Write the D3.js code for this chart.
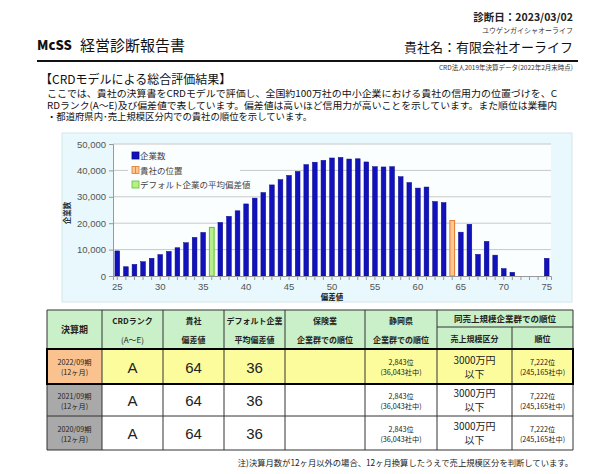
<!DOCTYPE html>
<html>
<head>
<meta charset="utf-8">
<script src="https://cdn.jsdelivr.net/npm/d3@7"></script>
<style>
  body { margin: 0; background: #fff; }
  text { font-family: "Noto Sans CJK JP", "Liberation Sans", sans-serif; }
  .num { font-family: "Liberation Sans", Arial, sans-serif; }
</style>
</head>
<body>
<div id="report"></div>
<script>
// Chart data: deviation score buckets and company counts
const scores = [25, 26, 27, 28, 29, 30, 31, 32, 33, 34, 35, 36, 37, 38, 39, 40, 41, 42, 43, 44, 45, 46, 47, 48, 49, 50,
  51, 52, 53, 54, 55, 56, 57, 58, 59, 60, 61, 62, 63, 64, 65, 66, 67, 68, 69, 70, 71, 72, 73, 74, 75];
const companyCounts = [9500, 3500, 4400, 5400, 6700, 8100, 9300, 10700, 12600, 14600, 16500, 18400, 20300, 22600, 24700,
  27300, 29500, 31600, 34500, 36500, 38100, 39600, 42200, 43100, 43800, 44700, 44900, 44300, 44400, 43200, 41400, 41300,
  41400, 37600, 35400, 33300, 33700, 28200, 27800, 21000, 16600, 19600, 8200, 13100, 7900, 2800, 1400, 0, 0, 0, 6700];
const ownScore = 64;
const defaultAvgScore = 36;
const yTicks = [0, 10000, 20000, 30000, 40000, 50000];
const xLabels = [25, 30, 35, 40, 45, 50, 55, 60, 65, 70, 75];
const legendLabels = ["企業数", "貴社の位置", "デフォルト企業の平均偏差値"];

// Table data
const periods = ["2022/09期", "2021/09期", "2020/09期"];
const periodMonths = ["(12ヶ月)", "(12ヶ月)", "(12ヶ月)"];
const crdRanks = ["A", "A", "A"];
const ownScores = ["64", "64", "64"];
const defaultScores = ["36", "36", "36"];
const industryRanks = ["", "", ""];
const prefRanks = ["2,843位", "2,843位", "2,843位"];
const prefTotals = ["(36,043社中)", "(36,043社中)", "(36,043社中)"];
const salesClasses = ["3000万円", "3000万円", "3000万円"];
const salesClassSub = ["以下", "以下", "以下"];
const salesRanks = ["7,222位", "7,222位", "7,222位"];
const salesTotals = ["(245,165社中)", "(245,165社中)", "(245,165社中)"];

const svg = d3.select("#report").append("svg")
  .attr("width", 600)
  .attr("height", 474);

// ---- header ----
svg.append("text").attr("x", 573).attr("y", 21).attr("text-anchor", "end")
  .attr("font-size", 10.5).attr("font-weight", "bold").attr("fill", "#222").text("診断日：2023/03/02");
svg.append("text").attr("x", 573).attr("y", 33).attr("text-anchor", "end")
  .attr("font-size", 7).attr("fill", "#333").text("ユウゲンガイシャオーライフ");
svg.append("text").attr("x", 37).attr("y", 50)
  .attr("font-size", 13).attr("font-weight", "900").attr("fill", "#111")
  .attr("font-family", "Liberation Sans, Arial, sans-serif").text("McSS");
svg.append("text").attr("x", 80).attr("y", 51)
  .attr("font-size", 15).attr("fill", "#111").text("経営診断報告書");
svg.append("text").attr("x", 573).attr("y", 52).attr("text-anchor", "end")
  .attr("font-size", 13).attr("fill", "#111").text("貴社名：有限会社オーライフ");
svg.append("line").attr("x1", 37).attr("x2", 578).attr("y1", 61).attr("y2", 61)
  .attr("stroke", "#111").attr("stroke-width", 2);
svg.append("text").attr("x", 573).attr("y", 70).attr("text-anchor", "end")
  .attr("font-size", 6.5).attr("fill", "#333").text("CRD法人2019年決算データ(2022年2月末時点)");

svg.append("text").attr("x", 40).attr("y", 84)
  .attr("font-size", 12).attr("fill", "#111").text("【CRDモデルによる総合評価結果】");

const para = [
  "ここでは、貴社の決算書をCRDモデルで評価し、全国約100万社の中小企業における貴社の信用力の位置づけを、C",
  "RDランク(A～E)及び偏差値で表しています。偏差値は高いほど信用力が高いことを示しています。また順位は業種内",
  "・都道府県内･売上規模区分内での貴社の順位を示しています。"
];
svg.selectAll(".para").data(para).enter().append("text")
  .attr("class", "para")
  .attr("x", 47)
  .attr("y", (d, i) => 97 + i * 11.5)
  .attr("font-size", 9.5)
  .attr("fill", "#111")
  .attr("textLength", (d, i) => i < 2 ? 510 : 265)
  .attr("lengthAdjust", "spacingAndGlyphs")
  .text(d => d);

// ---- chart ----
svg.append("rect").attr("x", 62).attr("y", 133).attr("width", 510).attr("height", 169)
  .attr("fill", "#e8f8fc").attr("stroke", "#d3e6ec");

const x = d3.scaleBand()
  .domain(scores)
  .range([113, 551])
  .paddingInner(0.45)
  .paddingOuter(0.225);
const y = d3.scaleLinear().domain([0, 50000]).range([276, 144]);

svg.append("rect").attr("x", 113).attr("y", 144).attr("width", 438).attr("height", 132)
  .attr("fill", "#fbfeff");

// gridlines
svg.append("g").selectAll("line").data(yTicks.slice(1)).enter().append("line")
  .attr("x1", 113).attr("x2", 551)
  .attr("y1", d => y(d)).attr("y2", d => y(d))
  .attr("stroke", "#c8c8c8").attr("stroke-width", 1);

// bars
svg.append("g").selectAll("rect").data(scores).enter().append("rect")
  .attr("x", (d) => x(d))
  .attr("width", x.bandwidth())
  .attr("y", (d, i) => y(companyCounts[i]))
  .attr("height", (d, i) => y(0) - y(companyCounts[i]))
  .attr("fill", d => d === ownScore ? "#ffc88e" : d === defaultAvgScore ? "#b9ee8c" : "#1212bd")
  .attr("stroke", d => d === ownScore ? "#e07a30" : d === defaultAvgScore ? "#5cc22c" : "#0a0a88")
  .attr("stroke-width", d => (d === ownScore || d === defaultAvgScore) ? 1 : 0.5);

// y axis
const yAxis = svg.append("g").attr("transform", "translate(113,0)")
  .call(d3.axisLeft(y).tickValues(yTicks).tickSize(4).tickFormat(d3.format(",")));
yAxis.select(".domain").attr("stroke", "#999");
yAxis.selectAll(".tick line").attr("stroke", "#999");
yAxis.selectAll(".tick text").attr("class", "num").attr("font-size", 9.5).attr("fill", "#555");

// x axis
const xAxis = svg.append("g").attr("transform", "translate(0,276)")
  .call(d3.axisBottom(x).tickSize(4).tickFormat(d => xLabels.includes(d) ? d : ""));
xAxis.select(".domain").attr("stroke", "#999");
xAxis.selectAll(".tick line").attr("stroke", "#999");
xAxis.selectAll(".tick text").attr("class", "num").attr("font-size", 9.5).attr("fill", "#555");

svg.append("text").attr("transform", "translate(70,213) rotate(-90)")
  .attr("text-anchor", "middle").attr("font-size", 7.5).attr("font-weight", "bold").attr("fill", "#333")
  .text("企業数");
svg.append("text").attr("x", 332).attr("y", 300).attr("text-anchor", "middle")
  .attr("font-size", 7.5).attr("font-weight", "bold").attr("fill", "#111").text("偏差値");

// legend
const legend = svg.append("g").attr("transform", "translate(128,146)");
legend.append("rect").attr("width", 112).attr("height", 42).attr("fill", "#fbfeff");
const swFill = ["#1212bd", "#ffc88e", "#b9ee8c"];
const swStroke = ["#0a0a88", "#e07a30", "#5cc22c"];
legendLabels.forEach((lab, i) => {
  const g = legend.append("g").attr("transform", `translate(4,${6 + i * 14.5})`);
  g.append("rect").attr("width", 7).attr("height", 7)
    .attr("fill", swFill[i]).attr("stroke", swStroke[i]).attr("stroke-width", 0.8);
  if (i === 1) {
    g.append("line").attr("x1", 3.5).attr("x2", 3.5).attr("y1", 0).attr("y2", 7)
      .attr("stroke", "#e07a30").attr("stroke-width", 0.8);
  }
  g.append("text").attr("x", 8).attr("y", 7).attr("font-size", 8.5).attr("fill", "#444").text(lab);
});

// ---- table ----
const colX = [47, 102, 163, 224, 285, 365, 437, 512, 573];
const rowY = [310, 349, 384, 416, 450];
const subY = 327;
const table = svg.append("g");

// header background
table.append("rect").attr("x", colX[0]).attr("y", rowY[0])
  .attr("width", colX[8] - colX[0]).attr("height", rowY[1] - rowY[0]).attr("fill", "#c9f0c9");

// row backgrounds
periods.forEach((p, r) => {
  const y0 = rowY[r + 1], y1 = rowY[r + 2];
  table.append("rect").attr("x", colX[0]).attr("y", y0).attr("width", colX[1] - colX[0]).attr("height", y1 - y0)
    .attr("fill", r === 0 ? "#f9c28e" : "#a9a9a9");
  table.append("rect").attr("x", colX[1]).attr("y", y0).attr("width", colX[8] - colX[1]).attr("height", y1 - y0)
    .attr("fill", r === 0 ? "#fdfc9c" : "#ffffff");
});

// grid lines
const lineColor = "#333";
rowY.forEach(yy => {
  table.append("line").attr("x1", colX[0]).attr("x2", colX[8]).attr("y1", yy).attr("y2", yy)
    .attr("stroke", lineColor).attr("stroke-width", 1);
});
table.append("line").attr("x1", colX[6]).attr("x2", colX[8]).attr("y1", subY).attr("y2", subY)
  .attr("stroke", lineColor).attr("stroke-width", 1);
colX.forEach((xx, i) => {
  table.append("line").attr("x1", xx).attr("x2", xx)
    .attr("y1", i === 7 ? subY : rowY[0]).attr("y2", rowY[4])
    .attr("stroke", lineColor).attr("stroke-width", 1);
});
// emphasised current period row
table.append("rect").attr("x", colX[0]).attr("y", rowY[1]).attr("width", colX[8] - colX[0])
  .attr("height", rowY[2] - rowY[1]).attr("fill", "none").attr("stroke", "#000").attr("stroke-width", 2);

const cx = i => (colX[i] + colX[i + 1]) / 2;
function cellText(xx, yy, txt, size, bold, cls) {
  table.append("text").attr("x", xx).attr("y", yy).attr("text-anchor", "middle")
    .attr("class", cls || null)
    .attr("font-size", size).attr("font-weight", bold ? "bold" : "normal").attr("fill", "#222").text(txt);
}

// header texts
cellText(cx(0), 333, "決算期", 9, true);
cellText(cx(1), 324, "CRDランク", 8, true);
cellText(cx(1), 343, "(A～E)", 8, false);
cellText(cx(2), 324, "貴社", 8, true);
cellText(cx(2), 343, "偏差値", 8, true);
cellText(cx(3), 324, "デフォルト企業", 8, true);
cellText(cx(3), 343, "平均偏差値", 8, true);
cellText(cx(4), 324, "保険業", 8, true);
cellText(cx(4), 343, "企業群での順位", 8, true);
cellText(cx(5), 324, "静岡県", 8, true);
cellText(cx(5), 343, "企業群での順位", 8, true);
cellText((colX[6] + colX[8]) / 2, 322, "同売上規模企業群での順位", 8.5, true);
cellText(cx(6), 342, "売上規模区分", 8, true);
cellText(cx(7), 342, "順位", 8, true);

// body texts
periods.forEach((p, r) => {
  const mid = (rowY[r + 1] + rowY[r + 2]) / 2;
  cellText(cx(0), mid - 1.5, p, 7.2, false);
  cellText(cx(0), mid + 8.5, periodMonths[r], 7.2, false);
  cellText(cx(1), mid + 6, crdRanks[r], 15, false, "num");
  cellText(cx(2), mid + 6, ownScores[r], 15, false, "num");
  cellText(cx(3), mid + 6, defaultScores[r], 15, false, "num");
  cellText(cx(4), mid + 4, industryRanks[r], 8, false);
  cellText(cx(5), mid - 1.5, prefRanks[r], 7.2, false);
  cellText(cx(5), mid + 8.5, prefTotals[r], 7.2, false);
  cellText(cx(6), mid - 3, salesClasses[r], 10, false);
  cellText(cx(6), mid + 11, salesClassSub[r], 10, false);
  cellText(cx(7), mid - 1.5, salesRanks[r], 7.2, false);
  cellText(cx(7), mid + 8.5, salesTotals[r], 7.2, false);
});

svg.append("text").attr("x", 573).attr("y", 466).attr("text-anchor", "end")
  .attr("font-size", 8.3).attr("fill", "#222")
  .text("注)決算月数が12ヶ月以外の場合、12ヶ月換算したうえで売上規模区分を判断しています。");
</script>
</body>
</html>
